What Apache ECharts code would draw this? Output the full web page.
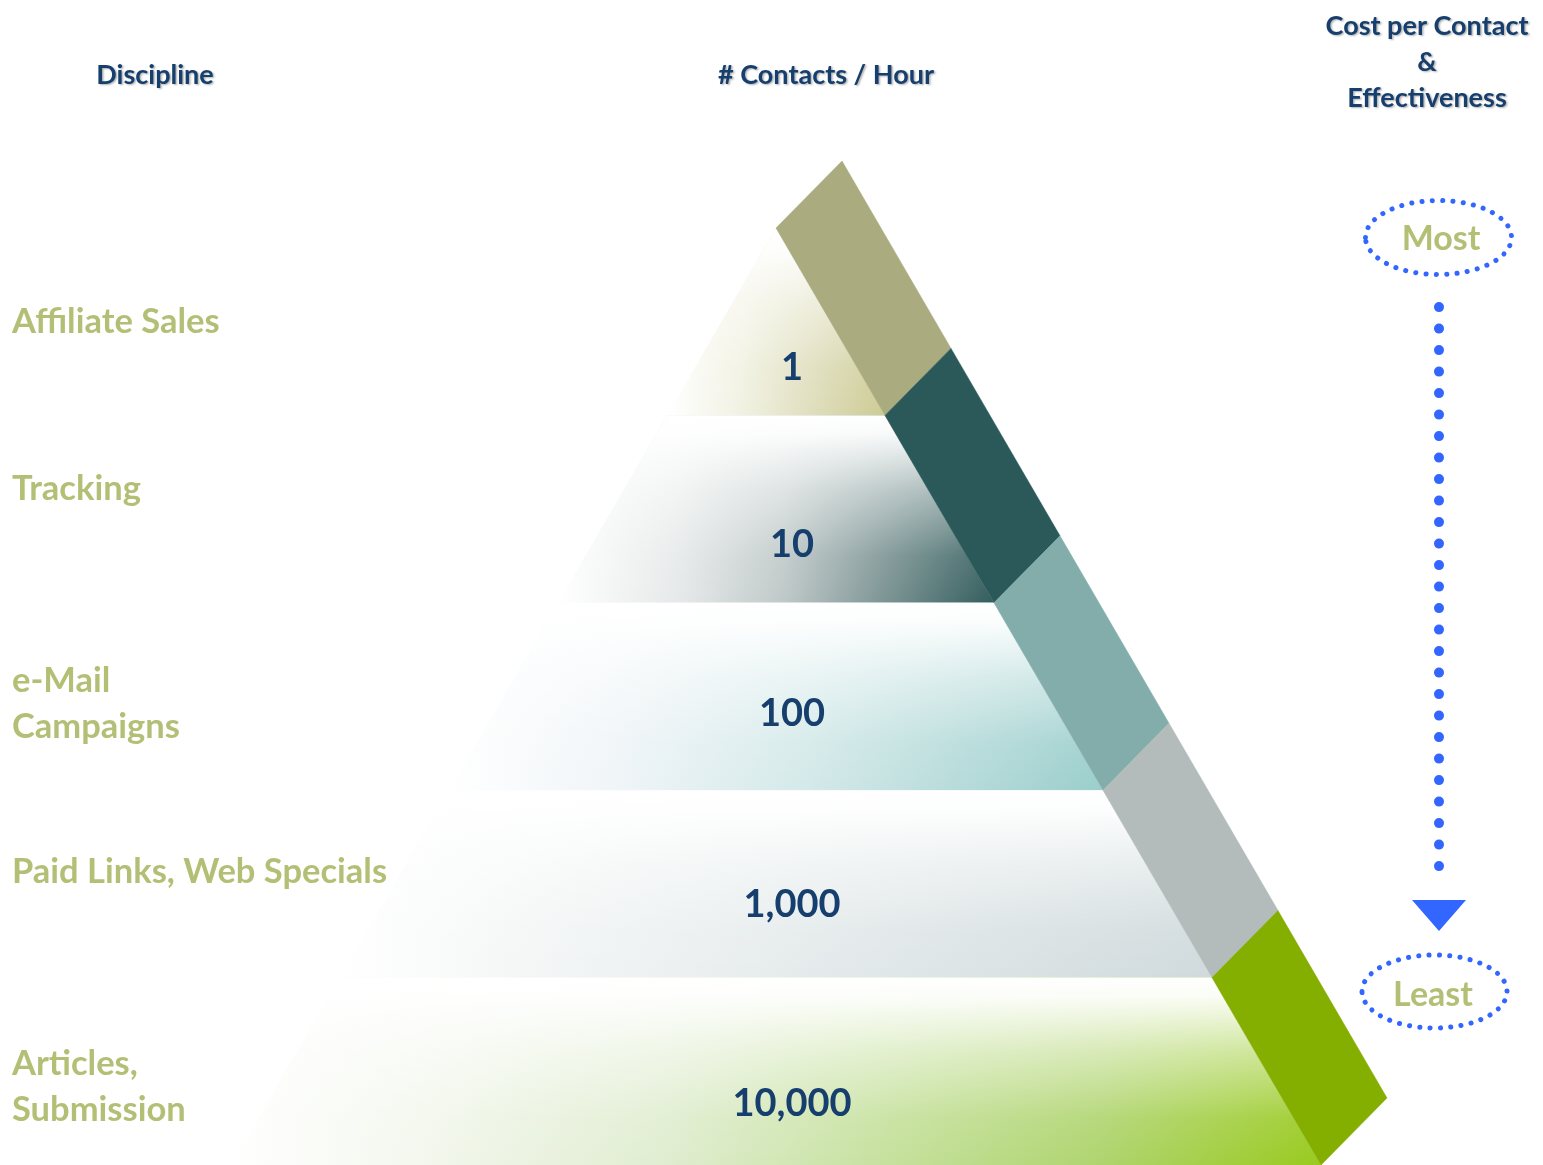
<!DOCTYPE html>
<html>
<head>
<meta charset="utf-8">
<script src="https://cdn.jsdelivr.net/npm/echarts@6/dist/echarts.min.js"></script>
<style>
  html, body { margin: 0; padding: 0; background: #ffffff; }
  #chart { width: 1543px; height: 1165px; }
</style>
</head>
<body>
<div id="chart"></div>
<script>
// ---------------- DATA ----------------
const disciplines = ['Affiliate Sales', 'Tracking', 'e-Mail\nCampaigns', 'Paid Links, Web Specials', 'Articles,\nSubmission'];
const contactsPerHour = [1, 10, 100, 1000, 10000];
const costScale = ['Most', 'Least'];
const headers = ['Discipline', '# Contacts / Hour', 'Cost per Contact\n&\nEffectiveness'];

// ---------------- STYLE / LAYOUT ----------------
const NAVY = '#173F6D';
const OLIVE = '#B4BF76';
const DOT_BLUE = '#3366FF';
const FONT = 'Lato, "Open Sans", "Noto Sans", sans-serif';
const APEX_X = 776;          // x-axis value of the pyramid axis
const BASE_HALF = 545;       // x-axis half-width of the pyramid base
const BAND_OFF = [66, -67];  // offset of the slanted band's outer edge
const BAND_COLORS = ['#AAAB7F', '#2B5858', '#82ADAB', '#B3BBBB', '#84AE00'];
const LAYER_STOPS = [
  [[0, '#ffffff'], [0.35, '#F1F1E2'], [0.65, '#E0DFBF'], [1, '#CDCB94']],
  [[0, '#ffffff'], [0.28, '#E6E9E9'], [0.52, '#BFC8C8'], [0.76, '#7A9292'], [1, '#335D5D']],
  [[0, '#ffffff'], [0.25, '#F0F5F8'], [0.55, '#D4E9E9'], [0.8, '#B4DAD9'], [1, '#9ACECC']],
  [[0, '#ffffff'], [0.2, '#F5F7F7'], [0.55, '#E4EAEB'], [1, '#D0DADC']],
  [[0, '#ffffff'], [0.18, '#F3F7ED'], [0.4, '#E0EDD0'], [0.6, '#C6E19E'], [0.8, '#AFD46E'], [1, '#99CA1E']]
];
const WHITE_FADE = [[0, 'rgba(255,255,255,1)'], [0.1, 'rgba(255,255,255,0.95)'], [0.4, 'rgba(255,255,255,0.5)'], [0.75, 'rgba(255,255,255,0.1)'], [1, 'rgba(255,255,255,0)']];
const NUM_X = 792;
const NUM_DY = [46, 36, 17, 21, 32];
const LABEL_DY = [0, -20, 7, -12, 16];

function geom(params, api) {
  const i = api.value(0);
  const cs = params.coordSys;
  const mid = api.coord([APEX_X, i]);
  const h = api.size([0, 1])[1];
  const slope = api.size([BASE_HALF, 0])[0] / cs.height;
  const y0 = mid[1] - h / 2, y1 = mid[1] + h / 2;
  const xl = y => mid[0] - slope * (y - cs.y);
  const xr = y => mid[0] + slope * (y - cs.y);
  return { i, cs, mid, h, y0, y1, xl, xr };
}

function renderLayer(params, api) {
  const g = geom(params, api);
  const { i, y0, y1, xl, xr } = g;
  const pts = [[xl(y0), y0], [xr(y0), y0], [xr(y1), y1], [xl(y1), y1]];
  return {
    type: 'group',
    children: [
      { type: 'polygon', shape: { points: pts },
        style: { fill: new echarts.graphic.LinearGradient(xl(y1), 0, xr(y1), 0, LAYER_STOPS[i].map(s => ({ offset: s[0], color: s[1] })), true) } },
      { type: 'polygon', shape: { points: pts },
        style: { fill: new echarts.graphic.LinearGradient(0, y0, 0, y1, WHITE_FADE.map(s => ({ offset: s[0], color: s[1] })), true) } }
    ]
  };
}

function renderBand(params, api) {
  const g = geom(params, api);
  const { i, y0, y1, xr } = g;
  const pts = [[xr(y0), y0], [xr(y1), y1], [xr(y1) + BAND_OFF[0], y1 + BAND_OFF[1]], [xr(y0) + BAND_OFF[0], y0 + BAND_OFF[1]]];
  return { type: 'polygon', shape: { points: pts }, style: { fill: BAND_COLORS[i], stroke: BAND_COLORS[i], lineWidth: 0.5 } };
}

function renderText(params, api) {
  const g = geom(params, api);
  const { i, cs, mid } = g;
  const numX = api.coord([NUM_X, i])[0];
  return {
    type: 'group',
    children: [
      { type: 'text', style: { text: api.value(1).toLocaleString('en-US'), x: numX, y: mid[1] + NUM_DY[i],
          fill: NAVY, fontFamily: FONT, fontWeight: 'bold', fontSize: 38, align: 'center', verticalAlign: 'middle' } },
      { type: 'text', style: { text: disciplines[i], x: cs.x + 12, y: mid[1] + LABEL_DY[i],
          fill: OLIVE, fontFamily: FONT, fontWeight: 'bold', fontSize: 34.5, lineHeight: 46, align: 'left', verticalAlign: 'middle' } }
    ]
  };
}

const chart = echarts.init(document.getElementById('chart'), null, { renderer: 'canvas' });
const seriesData = disciplines.map((d, i) => [i, contactsPerHour[i]]);
const headerStyle = { fill: NAVY, fontFamily: FONT, fontWeight: 'bold', fontSize: 27, align: 'center', verticalAlign: 'middle',
  textShadowColor: 'rgba(0,0,0,0.3)', textShadowBlur: 2, textShadowOffsetX: 1.5, textShadowOffsetY: 1.5, lineHeight: 36 };

chart.setOption({
  animation: false,
  backgroundColor: '#ffffff',
  grid: { left: 0, right: 0, top: 228, bottom: 0 },
  xAxis: { type: 'value', min: 0, max: 1543, show: false },
  yAxis: { type: 'category', data: disciplines, inverse: true, show: false },
  series: [
    { type: 'custom', renderItem: renderLayer, data: seriesData, encode: { y: 0 }, dimensions: ['layer', 'contacts'], z: 1 },
    { type: 'custom', renderItem: renderBand, data: seriesData, encode: { y: 0 }, dimensions: ['layer', 'contacts'], z: 2 },
    { type: 'custom', renderItem: renderText, data: seriesData, encode: { y: 0 }, dimensions: ['layer', 'contacts'], z: 3 }
  ],
  graphic: [
    { type: 'text', style: Object.assign({ text: headers[0], x: 155, y: 75 }, headerStyle) },
    { type: 'text', style: Object.assign({ text: headers[1], x: 826, y: 75 }, headerStyle) },
    { type: 'text', style: Object.assign({ text: headers[2], x: 1427, y: 62 }, headerStyle) },
    { type: 'ellipse', shape: { cx: 1438.5, cy: 237.5, rx: 73, ry: 37 },
      style: { fill: 'none', stroke: DOT_BLUE, lineWidth: 5, lineDash: [0.1, 10.2], lineCap: 'round' } },
    { type: 'text', style: { text: costScale[0], x: 1441, y: 239, fill: OLIVE, fontFamily: FONT, fontWeight: 'bold', fontSize: 34, align: 'center', verticalAlign: 'middle' } },
    { type: 'line', shape: { x1: 1439, y1: 307, x2: 1439, y2: 886 },
      style: { stroke: DOT_BLUE, lineWidth: 10, lineDash: [0.1, 21.4], lineCap: 'round' } },
    { type: 'polygon', shape: { points: [[1412, 900], [1466, 900], [1439, 931]] }, style: { fill: DOT_BLUE } },
    { type: 'ellipse', shape: { cx: 1434.5, cy: 991.5, rx: 72.5, ry: 36.5 },
      style: { fill: 'none', stroke: DOT_BLUE, lineWidth: 5, lineDash: [0.1, 10.2], lineCap: 'round' } },
    { type: 'text', style: { text: costScale[1], x: 1433, y: 995, fill: OLIVE, fontFamily: FONT, fontWeight: 'bold', fontSize: 34, align: 'center', verticalAlign: 'middle' } }
  ]
});
</script>
</body>
</html>
